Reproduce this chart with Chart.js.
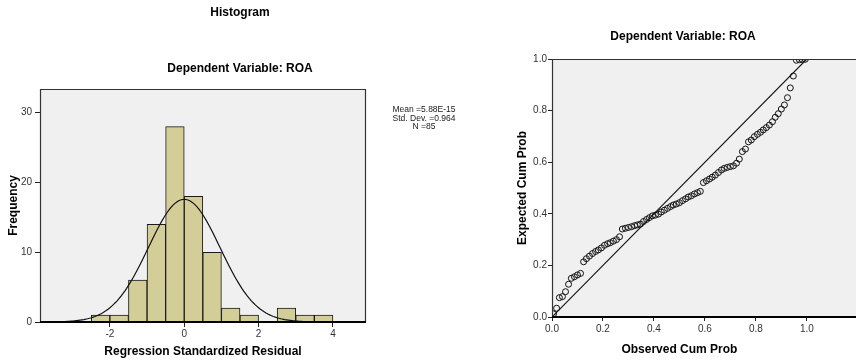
<!DOCTYPE html>
<html><head><meta charset="utf-8">
<script src="https://cdn.jsdelivr.net/npm/chart.js@4.4.1/dist/chart.umd.min.js"></script>
<style>
html,body{margin:0;padding:0;background:#fff;overflow:hidden;width:856px;height:362px;}
#wrap{position:relative;width:856px;height:362px;overflow:hidden;}
#c1{position:absolute;left:0;top:0;}
#c2{position:absolute;left:480px;top:0;}
</style></head><body>
<div id="wrap">
<canvas id="c1" width="480" height="362"></canvas>
<canvas id="c2" width="406" height="362"></canvas>
</div>
<script>
// ---------- Histogram data ----------
const binCenters = [-2.25, -1.75, -1.25, -0.75, -0.25, 0.25, 0.75, 1.25, 1.75, 2.25, 2.75, 3.25, 3.75];
const binCounts  = [1, 1, 6, 14, 28, 18, 10, 2, 1, 0, 2, 1, 1];
const histXTicks = [-2, 0, 2, 4];
const histYTicks = [0, 10, 20, 30];
const meanValue = 5.88e-15;
const stdDevValue = 0.964;
const nValue = 85;
const binWidth = 0.5;
const statLines = ["Mean =5.88E-15", "Std. Dev. =0.964", "N =85"];

// ---------- P-P plot data ----------
const observedCumProb = [0.006,0.018,0.029,0.041,0.053,0.065,0.076,0.088,0.100,0.112,0.124,0.135,0.147,0.159,0.171,0.182,0.194,0.206,0.218,0.229,0.241,0.253,0.265,0.276,0.288,0.300,0.312,0.324,0.335,0.347,0.359,0.371,0.382,0.394,0.406,0.418,0.429,0.441,0.453,0.465,0.476,0.488,0.500,0.512,0.524,0.535,0.547,0.559,0.571,0.582,0.594,0.606,0.618,0.629,0.641,0.653,0.665,0.676,0.688,0.700,0.712,0.724,0.735,0.747,0.759,0.771,0.782,0.794,0.806,0.818,0.829,0.841,0.853,0.865,0.876,0.888,0.900,0.912,0.924,0.935,0.947,0.959,0.971,0.982,0.994];
const expectedCumProb = [0.012,0.034,0.075,0.079,0.098,0.127,0.150,0.156,0.163,0.169,0.214,0.226,0.236,0.246,0.254,0.260,0.268,0.278,0.284,0.288,0.294,0.300,0.311,0.341,0.344,0.347,0.350,0.354,0.357,0.360,0.370,0.378,0.385,0.392,0.395,0.399,0.407,0.414,0.421,0.428,0.434,0.438,0.443,0.451,0.458,0.465,0.470,0.477,0.482,0.487,0.521,0.528,0.535,0.542,0.550,0.560,0.570,0.576,0.580,0.583,0.586,0.596,0.612,0.641,0.651,0.679,0.686,0.699,0.708,0.716,0.725,0.734,0.744,0.757,0.774,0.788,0.806,0.822,0.850,0.888,0.934,0.995,0.997,0.998,0.999];
const refLineX = [0, 1];
const refLineY = [0, 1];
const ppTicks = [0, 0.2, 0.4, 0.6, 0.8, 1.0];

const FONT = "'Liberation Sans', Arial, sans-serif";
Chart.defaults.font.family = FONT;
Chart.defaults.color = '#000';

// fitted normal curve (from Mean, Std. Dev. and N shown in the chart)
const curveXs = [];
for (let v = -3.9; v <= 4.9; v += 0.05) curveXs.push(v);
const normalCurve = curveXs.map(v => ({
  x: v,
  y: nValue * binWidth * Math.exp(-0.5 * Math.pow((v - meanValue) / stdDevValue, 2)) / (stdDevValue * Math.sqrt(2 * Math.PI))
}));

const framePlot = {
  id: 'framePlot',
  beforeDraw(chart) {
    const {ctx, chartArea: a} = chart;
    ctx.save();
    ctx.fillStyle = '#f0f0f0';
    ctx.fillRect(a.left, a.top, a.right - a.left, a.bottom - a.top);
    ctx.restore();
  },
  afterDatasetsDraw(chart) {
    const {ctx, chartArea: a} = chart;
    ctx.save();
    ctx.strokeStyle = '#333';
    ctx.lineWidth = 1.2;
    ctx.beginPath();
    ctx.moveTo(a.left + 0.5, a.bottom);
    ctx.lineTo(a.left + 0.5, a.top + 0.5);
    ctx.lineTo(a.right - 0.5, a.top + 0.5);
    ctx.lineTo(a.right - 0.5, a.bottom);
    ctx.stroke();
    ctx.strokeStyle = '#000';
    ctx.lineWidth = 2;
    ctx.beginPath();
    ctx.moveTo(a.left, a.bottom);
    ctx.lineTo(a.right, a.bottom);
    ctx.stroke();
    ctx.restore();
  }
};

const statsText = {
  id: 'statsText',
  afterDraw(chart) {
    const ctx = chart.ctx;
    ctx.save();
    ctx.fillStyle = '#222';
    ctx.font = "8.5px " + FONT;
    ctx.textAlign = 'center';
    ctx.textBaseline = 'middle';
    statLines.forEach((s, i) => ctx.fillText(s, 424, 110 + i * 8.5));
    ctx.restore();
  }
};

const tickFont = {size: 10};

new Chart(document.getElementById('c1'), {
  type: 'bar',
  data: {
    datasets: [
      {
        type: 'line',
        data: normalCurve,
        borderColor: '#111',
        borderWidth: 1.2,
        pointRadius: 0,
        tension: 0,
        fill: false,
        order: 0
      },
      {
        type: 'bar',
        data: binCenters.map((c, i) => ({x: c, y: binCounts[i]})),
        backgroundColor: '#d3ce98',
        borderColor: '#1a1a1a',
        borderWidth: 1,
        barPercentage: 1,
        categoryPercentage: 1,
        order: 1
      }
    ]
  },
  options: {
    responsive: false,
    animation: false,
    devicePixelRatio: 1,
    layout: {padding: 0},
    plugins: {
      legend: {display: false},
      tooltip: {enabled: false},
      title: {display: true, text: 'Histogram', font: {size: 12, weight: 'bold'}, color: '#000', padding: {top: 5.8, bottom: 0}},
      subtitle: {display: true, text: 'Dependent Variable: ROA', font: {size: 12, weight: 'bold'}, color: '#000', padding: {top: 41.6, bottom: 12.8}}
    },
    scales: {
      x: {
        type: 'linear', min: -3.88, max: 4.89, offset: false,
        afterBuildTicks: s => { s.ticks = histXTicks.map(v => ({value: v})); },
        ticks: {font: tickFont, color: '#333', padding: 1},
        grid: {display: true, offset: false, drawOnChartArea: false, tickLength: 5, tickColor: '#222'},
        border: {display: false},
        title: {display: true, text: 'Regression Standardized Residual', font: {size: 12, weight: 'bold'}, color: '#000', padding: {top: 0, bottom: 2.8}},
        afterFit: s => { s.height = 40; }
      },
      y: {
        type: 'linear', min: 0, max: 33.4,
        afterBuildTicks: s => { s.ticks = histYTicks.map(v => ({value: v})); },
        ticks: {font: tickFont, color: '#333', padding: 3},
        grid: {display: true, offset: false, drawOnChartArea: false, tickLength: 5, tickColor: '#222'},
        border: {display: false},
        title: {display: true, text: 'Frequency', font: {size: 12, weight: 'bold'}, color: '#000', padding: {top: 6.8, bottom: 0}},
        afterFit: s => { s.width = 40; }
      },
      yR: {
        position: 'right', display: true,
        grid: {display: false}, border: {display: false}, ticks: {display: false},
        afterFit: s => { s.width = 114; }
      }
    }
  },
  plugins: [framePlot, statsText]
});

const ppXTitle = {
  id: 'ppXTitle',
  afterDraw(chart) {
    const ctx = chart.ctx;
    const xs = chart.scales.x;
    ctx.save();
    ctx.fillStyle = '#000';
    ctx.font = "bold 12px " + FONT;
    ctx.textAlign = 'center';
    ctx.textBaseline = 'middle';
    ctx.fillText('Observed Cum Prob', xs.getPixelForValue(0.5), 350);
    ctx.restore();
  }
};

new Chart(document.getElementById('c2'), {
  type: 'scatter',
  data: {
    datasets: [
      {
        type: 'line',
        data: refLineX.map((v, i) => ({x: v, y: refLineY[i]})),
        borderColor: '#111',
        borderWidth: 1.1,
        pointRadius: 0,
        fill: false,
        order: 1
      },
      {
        type: 'scatter',
        data: observedCumProb.map((v, i) => ({x: v, y: expectedCumProb[i]})),
        pointStyle: 'circle',
        pointRadius: 3,
        borderWidth: 1,
        borderColor: '#111',
        backgroundColor: 'rgba(0,0,0,0)',
        order: 0
      }
    ]
  },
  options: {
    responsive: false,
    animation: false,
    devicePixelRatio: 1,
    layout: {padding: 0},
    plugins: {
      legend: {display: false},
      tooltip: {enabled: false},
      title: {display: true, text: 'Dependent Variable: ROA', font: {size: 12, weight: 'bold'}, color: '#000', padding: {top: 29.8, bottom: 14.8}}
    },
    scales: {
      x: {
        type: 'linear', min: 0, max: 1.291,
        afterBuildTicks: s => { s.ticks = ppTicks.map(v => ({value: v})); },
        ticks: {font: tickFont, color: '#333', padding: 2, callback: v => Number(v).toFixed(1)},
        grid: {display: true, offset: false, drawOnChartArea: false, tickLength: 4, tickColor: '#222'},
        border: {display: false},
        afterFit: s => { s.height = 45; }
      },
      y: {
        type: 'linear', min: 0, max: 1,
        afterBuildTicks: s => { s.ticks = ppTicks.map(v => ({value: v})); },
        ticks: {font: tickFont, color: '#333', padding: 1, callback: v => Number(v).toFixed(1)},
        grid: {display: true, offset: false, drawOnChartArea: false, tickLength: 4, tickColor: '#222'},
        border: {display: false},
        title: {display: true, text: 'Expected Cum Prob', font: {size: 12, weight: 'bold'}, color: '#000', padding: {top: 35.8, bottom: 0}},
        afterFit: s => { s.width = 72; }
      }
    }
  },
  plugins: [framePlot, ppXTitle]
});
</script>
</body></html>
